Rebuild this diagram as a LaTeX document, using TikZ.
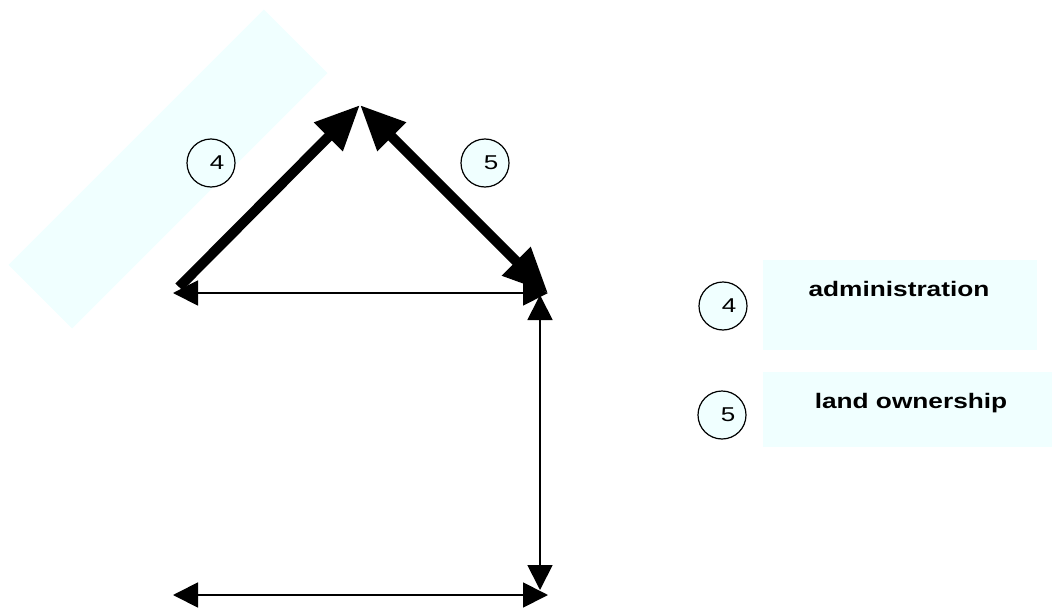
\documentclass[tikz,border=0pt]{standalone}
\usepackage{fontspec}
\setmainfont{Liberation Sans}
\usetikzlibrary{arrows.meta}
\definecolor{azurefill}{HTML}{F0FFFF}
\tikzset{
  smallhead/.tip={Triangle[length=25pt,width=25pt]},
  bighead/.tip={Triangle[length=45pt,width=38pt]},
  thinarrow/.style={line width=1.8pt, {smallhead}-{smallhead}},
  thickline/.style={line width=10pt},
  numcircle/.style={circle, draw, line width=1.2pt, fill=azurefill, minimum size=48pt, inner sep=0pt,
    font=\fontsize{20}{22}\selectfont},
  legendbox/.style={fill=azurefill, inner sep=0pt, anchor=north west},
  legendtext/.style={anchor=base, inner sep=0pt, font=\fontsize{21}{25}\selectfont\bfseries}
}
\newcommand{\numtxt}[1]{\hspace{12pt}\raisebox{1pt}{\scalebox{1.3}[1]{#1}}}
\begin{document}
\begin{tikzpicture}[x=1pt,y=-1pt]
\useasboundingbox (0,0) rectangle (1052,610);
% rotated band
\node[rotate=45, minimum width=361pt, minimum height=90pt, fill=azurefill, inner sep=0pt] (band) at (168,169) {};
% coordinates
\coordinate (A) at (173,293);
\coordinate (A2) at (179,287);
\coordinate (T) at (360,105);
\coordinate (B) at (548,293);
\coordinate (V1) at (540,295);
\coordinate (V2) at (540,590);
\coordinate (L) at (173,595);
\coordinate (R) at (548,595);
% thin arrows
\draw[thinarrow] (A) -- (B);
\draw[thinarrow] (V1) -- (V2);
\draw[thinarrow] (L) -- (R);
% thick arrows
\draw[thickline, -{bighead}] (A2) -- (T);
\draw[thickline, {bighead}-{bighead}] (T) -- (B);
% circles
\node[numcircle] (c4) at (211,163) {\numtxt{4}};
\node[numcircle] (c5) at (485,163) {\numtxt{5}};
% legend
\node[legendbox, minimum width=274pt, minimum height=90pt] (box1) at (763,260) {};
\node[legendbox, minimum width=289pt, minimum height=75pt] (box2) at (763,372) {};
\node[numcircle] (l4) at (723,306) {\numtxt{4}};
\node[numcircle] (l5) at (722,415) {\numtxt{5}};
\node[legendtext] (t4) at (899,296) {\scalebox{1.25}[1]{administration}};
\node[legendtext] (t5) at (911,408) {\scalebox{1.25}[1]{land ownership}};
\end{tikzpicture}
\end{document}
